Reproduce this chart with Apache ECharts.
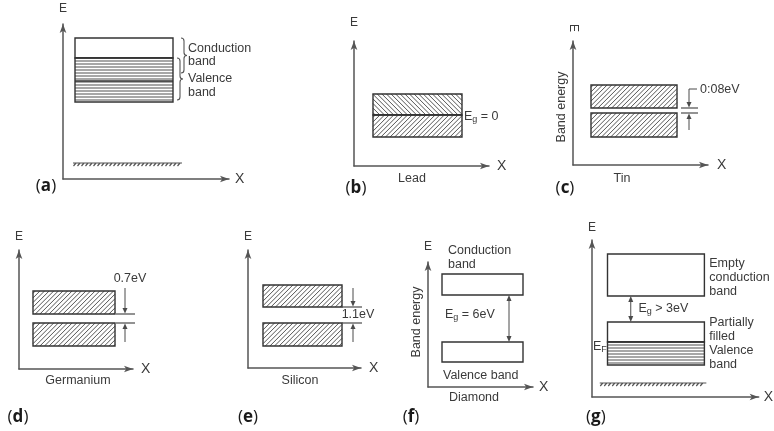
<!DOCTYPE html>
<html><head><meta charset="utf-8">
<script src="https://cdn.jsdelivr.net/npm/echarts@6/dist/echarts.min.js"></script>
<style>html,body{margin:0;padding:0;background:#fff}#c{width:774px;height:431px}</style>
</head><body><div id="c"></div>
<script>
// ---------- DATA (units along each panel's X and E axes) ----------
const panelIds = ['a','b','c','d','e','f','g'];
const materialNames = ['', 'Lead', 'Tin', 'Germanium', 'Silicon', 'Diamond', ''];
const xExtent = [166, 135, 135, 114, 113, 105, 172];
const eExtent = [155, 125, 124, 119, 118, 125, 157];

// bands: [x0, x1, eBottom, eTop, fill]
const bandsA = [[12,110,121,141,'none'],[12,110,77,121,'ruled']];
const bandsB = [[19,108,51,72,'back'],[19,108,29,51,'fwd']];
const bandsC = [[18,104,57,80,'fwd'],[18,104,28,52,'fwd']];
const bandsD = [[14,96,55,78,'fwd'],[14,96,23,46,'fwd']];
const bandsE = [[15,94,61,83,'fwd'],[15,94,22,45,'fwd']];
const bandsF = [[14,95,92,113,'none'],[14,95,25,45,'none']];
const bandsG = [[16,116,101,143,'none'],[16,116,55,75,'none'],[16,116,32,55,'ruled']];
// emphasised levels: [x0, x1, e]
const levelsA = [[12,110,121],[12,110,98]];
const levelsB = [[19,108,51]];
const levelsG = [[16,116,55]];
// gap markers: [x, eUpper, eLower, lineX0, lineX1, arrowFromAbove, arrowFromBelow]
const gapsC = [[116,57,52,108,125,65,35]];
const gapsD = [[106,55,46,97,116,81,27]];
const gapsE = [[105,61,45,94,114,80,26]];
// leader line: [x, e0, e1, x1]
const leadersC = [[116,65,76,124]];
// double arrows: [x, eLow, eHigh]
const doubleF = [[81,45,92]];
const doubleG = [[40,75,101]];
// ground: [x0, x1, e]
const groundA = [[10,119,16]];
const groundG = [[8,118,14]];
// braces: [x, eTop, eBottom]
const bracesA = [[118,141,106],[114,121,79]];
// texts: [x, e, text, align]
const textsA = [[125,130,'Conduction'],[125,117,'band'],[125,100,'Valence'],[125,86,'band']];
const textsB = [[110,49,'E{s|g} = 0']];
const textsC = [[127,75,'0:08eV']];
const textsD = [[111,90,'0.7eV','center']];
const textsE = [[110,53,'1.1eV','center']];
const textsF = [[20,136,'Conduction'],[20,122,'band'],[17,72,'E{s|g} = 6eV'],[15,11,'Valence band']];
const textsG = [[121,133,'Empty'],[121,119,'conduction'],[121,105,'band'],[48,88,'E{s|g} > 3eV'],
                [121,74,'Partially'],[121,60,'filled'],[121,46,'Valence'],[121,32,'band'],[1,50,'E{s|F}']];
const materialPos = [null,[58,-13],[49,-14],[59,-12],[52,-13],[46,-11],null];
const verticalLabels = [null,null,[-11,58,'Band energy'],null,null,[-11,65,'Band energy'],null];
const panelLabelPos = [[-17,-7],[2,-22],[-8,-23],[-1,-48],[0,-49],[-17,-30],[4,-20]];

// ---------- LAYOUT ----------
const origins = [[63,179],[354,166],[573,165],[19,369],[248,368],[428,387],[592,397]];
const eNameGap = [9,12,9,7,7,9,6];
const xNameGap = [6,8,9,8,8,6,5];
const INK = '#3a3a3a', LINE = '#4a4a4a';
const FAM = '"Liberation Sans", Arial, Helvetica, sans-serif';

const panels = [
  {bands:bandsA, levels:levelsA, ground:groundA, braces:bracesA, texts:textsA},
  {bands:bandsB, levels:levelsB, texts:textsB},
  {bands:bandsC, gaps:gapsC, leaders:leadersC, texts:textsC},
  {bands:bandsD, gaps:gapsD, texts:textsD},
  {bands:bandsE, gaps:gapsE, texts:textsE},
  {bands:bandsF, doubles:doubleF, texts:textsF},
  {bands:bandsG, levels:levelsG, doubles:doubleG, ground:groundG, texts:textsG}
];

function pad(a){ const r = a.slice(); while (r.length < 7) r.push(0); return r; }

function buildItems(p, i) {
  const items = [];
  (p.bands||[]).forEach(b => items.push({kind:'band', nums:[b[0],b[1],b[2],b[3]], fill:b[4]}));
  (p.levels||[]).forEach(l => items.push({kind:'level', nums:l}));
  (p.gaps||[]).forEach(g => items.push({kind:'gap', nums:g}));
  (p.leaders||[]).forEach(g => items.push({kind:'leader', nums:g}));
  (p.doubles||[]).forEach(g => items.push({kind:'double', nums:g}));
  (p.ground||[]).forEach(g => items.push({kind:'ground', nums:g}));
  (p.braces||[]).forEach(g => items.push({kind:'brace', nums:g}));
  (p.texts||[]).forEach(t => items.push({kind:'text', nums:[t[0],t[1]], text:t[2], align:t[3]||'left'}));
  if (materialPos[i]) items.push({kind:'text', nums:materialPos[i], text:materialNames[i], align:'center'});
  if (verticalLabels[i]) items.push({kind:'text', nums:[verticalLabels[i][0],verticalLabels[i][1]], text:verticalLabels[i][2], align:'center', rotate:Math.PI/2});
  items.push({kind:'panel', nums:panelLabelPos[i], text:'({b|' + panelIds[i] + '})'});
  return items;
}

const richSub = {s:{fontSize:9, fontFamily:FAM, fill:INK, padding:[6,0,0,0]}};

function makeRender(items) {
  return function (params, api) {
    const it = items[params.dataIndex];
    const n = [0,1,2,3,4,5,6].map(k => api.value(k));
    const P = (x, e) => api.coord([x, e]);
    const ch = [];
    if (it.kind === 'band') {
      const a = P(n[0], n[3]), b = P(n[1], n[2]);
      const L=a[0], T=a[1], R=b[0], B=b[1];
      ch.push({type:'rect', shape:{x:L,y:T,width:R-L,height:B-T}, style:{fill:'#fff'}});
      let d = ''; const s = 4.6;
      if (it.fill === 'fwd') {
        for (let c = L+T+s/2; c < R+B; c += s) {
          const xa = Math.max(L, c-B), xb = Math.min(R, c-T);
          if (xb > xa) d += 'M'+xa+' '+(c-xa)+'L'+xb+' '+(c-xb);
        }
      } else if (it.fill === 'back') {
        for (let c = L-B+s/2; c < R-T; c += s) {
          const xa = Math.max(L, c+T), xb = Math.min(R, c+B);
          if (xb > xa) d += 'M'+xa+' '+(xa-c)+'L'+xb+' '+(xb-c);
        }
      } else if (it.fill === 'ruled') {
        for (let y = T+3; y < B-1; y += 3) d += 'M'+L+' '+y+'L'+R+' '+y;
      }
      if (d) ch.push({type:'path', shape:{pathData:d}, style:{fill:null, stroke: it.fill==='ruled' ? '#8a8a8a' : '#555', lineWidth: it.fill==='ruled' ? 1.3 : 1}});
      ch.push({type:'rect', shape:{x:L,y:T,width:R-L,height:B-T}, style:{fill:null, stroke:'#333', lineWidth:1.4}});
    } else if (it.kind === 'level') {
      const a = P(n[0], n[2]), b = P(n[1], n[2]);
      ch.push({type:'line', shape:{x1:a[0],y1:a[1],x2:b[0],y2:b[1]}, style:{stroke:'#333', lineWidth:1.6}});
    } else if (it.kind === 'gap') {
      const u0 = P(n[3], n[1]), u1 = P(n[4], n[1]);
      const l0 = P(n[3], n[2]), l1 = P(n[4], n[2]);
      const x = P(n[0], 0)[0];
      const ya = P(n[0], n[5])[1], yb = P(n[0], n[6])[1];
      ch.push({type:'line', shape:{x1:u0[0],y1:u0[1],x2:u1[0],y2:u1[1]}, style:{stroke:LINE, lineWidth:1.2}});
      ch.push({type:'line', shape:{x1:l0[0],y1:l0[1],x2:l1[0],y2:l1[1]}, style:{stroke:LINE, lineWidth:1.2}});
      ch.push({type:'line', shape:{x1:x,y1:ya,x2:x,y2:u0[1]-5}, style:{stroke:LINE, lineWidth:1}});
      ch.push({type:'polygon', shape:{points:[[x-2.5,u0[1]-6],[x+2.5,u0[1]-6],[x,u0[1]-0.5]]}, style:{fill:LINE}});
      ch.push({type:'line', shape:{x1:x,y1:yb,x2:x,y2:l0[1]+5}, style:{stroke:LINE, lineWidth:1}});
      ch.push({type:'polygon', shape:{points:[[x-2.5,l0[1]+6],[x+2.5,l0[1]+6],[x,l0[1]+0.5]]}, style:{fill:LINE}});
    } else if (it.kind === 'leader') {
      const a = P(n[0], n[1]), b = P(n[0], n[2]), c = P(n[3], n[2]);
      ch.push({type:'polyline', shape:{points:[a,b,c]}, style:{fill:null, stroke:LINE, lineWidth:1}});
    } else if (it.kind === 'double') {
      const a = P(n[0], n[1]), b = P(n[0], n[2]);
      const x = a[0];
      ch.push({type:'line', shape:{x1:x,y1:b[1]+5,x2:x,y2:a[1]-5}, style:{stroke:LINE, lineWidth:1}});
      ch.push({type:'polygon', shape:{points:[[x-2.5,b[1]+6],[x+2.5,b[1]+6],[x,b[1]]]}, style:{fill:LINE}});
      ch.push({type:'polygon', shape:{points:[[x-2.5,a[1]-6],[x+2.5,a[1]-6],[x,a[1]]]}, style:{fill:LINE}});
    } else if (it.kind === 'ground') {
      const a = P(n[0], n[2]), b = P(n[1], n[2]);
      let d = 'M'+a[0]+' '+a[1]+'L'+b[0]+' '+b[1];
      for (let x = a[0]+3; x <= b[0]; x += 4) d += 'M'+x+' '+a[1]+'L'+(x-2.5)+' '+(a[1]+3);
      ch.push({type:'path', shape:{pathData:d}, style:{fill:null, stroke:'#555', lineWidth:1.2}});
    } else if (it.kind === 'brace') {
      const t = P(n[0], n[1]), b = P(n[0], n[2]);
      const X = t[0], T = t[1], B = b[1], M = (T+B)/2;
      const d = 'M'+X+' '+T+'Q'+(X+3)+' '+T+' '+(X+3)+' '+(T+3)+'L'+(X+3)+' '+(M-3)+'Q'+(X+3)+' '+M+' '+(X+6)+' '+M+
                'Q'+(X+3)+' '+M+' '+(X+3)+' '+(M+3)+'L'+(X+3)+' '+(B-3)+'Q'+(X+3)+' '+B+' '+X+' '+B;
      ch.push({type:'path', shape:{pathData:d}, style:{fill:null, stroke:'#555', lineWidth:1.1}});
    } else if (it.kind === 'text') {
      const a = P(n[0], n[1]);
      ch.push({type:'text', x:a[0], y:a[1], rotation: it.rotate || 0,
        style:{text:it.text, x:0, y:0, fill:INK, fontSize:12.5, fontFamily:FAM,
               align:it.align, verticalAlign:'middle', rich:richSub}});
    } else if (it.kind === 'panel') {
      const a = P(n[0], n[1]);
      ch.push({type:'text', x:a[0], y:a[1],
        style:{text:it.text, x:0, y:0, fill:'#1a1a1a', fontSize:17, fontFamily:'"Open Sans", "Noto Sans", sans-serif',
               align:'center', verticalAlign:'middle',
               rich:{b:{fontSize:17, fontWeight:'bold', fill:'#1a1a1a', fontFamily:'"Open Sans", "Noto Sans", sans-serif'}}}});
    }
    return {type:'group', children:ch};
  };
}

const grids = [], xAxes = [], yAxes = [], series = [];
panels.forEach((p, i) => {
  const [ox, oy] = origins[i];
  grids.push({left:ox, top:oy - eExtent[i], width:xExtent[i], height:eExtent[i], containLabel:false});
  const axisCommon = {
    gridIndex:i, type:'value', min:0,
    axisLine:{show:true, symbol:['none','arrow'], symbolSize:[5,9], lineStyle:{color:'#555', width:1.5}},
    axisTick:{show:false}, axisLabel:{show:false}, splitLine:{show:false}
  };
  xAxes.push(Object.assign({}, axisCommon, {max:xExtent[i], name:'X', nameLocation:'end', nameGap:xNameGap[i],
    nameTextStyle:{fontSize:14, color:INK, fontFamily:FAM}}));
  yAxes.push(Object.assign({}, axisCommon, {max:eExtent[i], name:'E', nameLocation:'end', nameGap:eNameGap[i],
    nameRotate: i === 2 ? -90 : 0,
    nameTextStyle:{fontSize:12, color:INK, fontFamily:FAM}}));
  const items = buildItems(p, i);
  series.push({type:'custom', xAxisIndex:i, yAxisIndex:i, silent:true, clip:false,
    data: items.map(it => pad(it.nums)), renderItem: makeRender(items)});
});

const chart = echarts.init(document.getElementById('c'), null, {renderer:'canvas'});
chart.setOption({animation:false, backgroundColor:'#fff', grid:grids, xAxis:xAxes, yAxis:yAxes, series:series});
</script></body></html>
